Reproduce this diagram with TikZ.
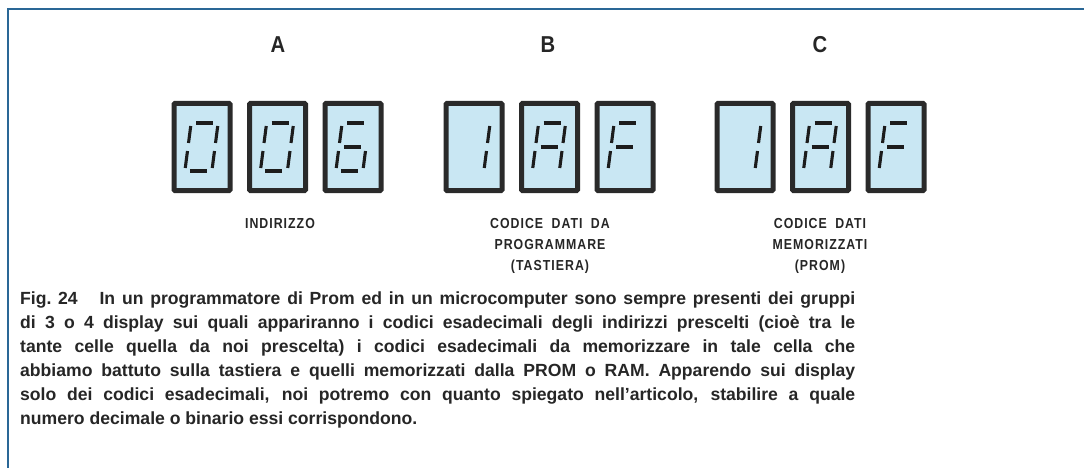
\documentclass[tikz,border=0pt]{standalone}
\usepackage{fontspec}
\setmainfont{Liberation Sans}
\newfontfamily\headfont[FakeStretch=0.88]{Liberation Sans}
\newfontfamily\lblfont[FakeStretch=0.85,LetterSpace=7]{Liberation Sans}
\newfontfamily\capfont{Liberation Sans}
\definecolor{framecol}{HTML}{2A6796}
\definecolor{dispfill}{HTML}{C9E7F3}
\definecolor{dispedge}{HTML}{2A2A2A}
\definecolor{segcol}{HTML}{1C1C1C}
\definecolor{textcol}{HTML}{262626}
\tikzset{
  disp/.style={draw=dispedge, line width=5pt, fill=dispfill, minimum width=56pt,
    minimum height=87pt, inner sep=0pt, rounded corners=1pt},
  segline/.style={draw=segcol, line width=3.1pt},
  headlbl/.style={text=textcol, font=\headfont\bfseries\fontsize{23}{23}\selectfont, inner sep=0pt},
  sublbl/.style={text=textcol, font=\lblfont\bfseries\fontsize{14.5}{21}\selectfont, align=center, inner sep=0pt},
  captxt/.style={text=textcol, font=\capfont\bfseries\fontsize{17.6}{24}\selectfont, align=left, inner sep=0pt},
}
\newcommand{\sga}{\draw[segline] (-9,-24) -- (8,-24);}
\newcommand{\sgb}{\draw[segline] (13,-21) -- (13,-4);}
\newcommand{\sgc}{\draw[segline] (13,4) -- (13,21);}
\newcommand{\sgd}{\draw[segline] (-9,24) -- (8,24);}
\newcommand{\sge}{\draw[segline] (-14,4) -- (-14,21);}
\newcommand{\sgf}{\draw[segline] (-14,-21) -- (-14,-4);}
\newcommand{\sgg}{\draw[segline] (-9,0) -- (8,0);}
\newcommand{\showdigit}[2]{%
  \begin{scope}[shift={(#1.center)}, xslant=0.13]
    \foreach \s in {#2}{\csname sg\s\endcsname}
  \end{scope}}
\begin{document}
\begin{tikzpicture}[x=1pt, y=-1pt]
\useasboundingbox (0,0) rectangle (1084,468);
\fill[white] (0,0) rectangle (1084,468);
% frame
\coordinate (fbl) at (8,468);
\coordinate (ftl) at (8,9);
\coordinate (ftr) at (1084,9);
\draw[framecol, line width=2pt] (fbl) -- (ftl) -- (ftr);
% headings
\node[headlbl] (hA) at (278,45) {A};
\node[headlbl] (hB) at (548,45) {B};
\node[headlbl] (hC) at (820,45) {C};
% displays
\node[disp] (a1) at (202,147) {};
\node[disp] (a2) at (277.5,147) {};
\node[disp] (a3) at (353,147) {};
\node[disp] (b1) at (474,147) {};
\node[disp] (b2) at (549.5,147) {};
\node[disp] (b3) at (625,147) {};
\node[disp] (c1) at (745,147) {};
\node[disp] (c2) at (820.5,147) {};
\node[disp] (c3) at (896,147) {};
\showdigit{a1}{a,b,c,d,e,f}
\showdigit{a2}{a,b,c,d,e,f}
\showdigit{a3}{a,c,d,e,f,g}
\showdigit{b1}{b,c}
\showdigit{b2}{a,b,c,e,f,g}
\showdigit{b3}{a,e,f,g}
\showdigit{c1}{b,c}
\showdigit{c2}{a,b,c,e,f,g}
\showdigit{c3}{a,e,f,g}
% labels
\node[sublbl, anchor=north] (lA) at (280,218) {INDIRIZZO};
\node[sublbl, anchor=north] (lB) at (550,218) {CODICE\hspace{4pt} DATI\hspace{4pt} DA\\PROGRAMMARE\\(TASTIERA)};
\node[sublbl, anchor=north] (lC) at (820,218) {CODICE\hspace{4pt} DATI\\MEMORIZZATI\\(PROM)};
% caption
\node[captxt, anchor=north west] (cap) at (20,292) {%
\makebox[835pt][s]{\mbox{Fig. 24}\hspace{22pt}In un programmatore di Prom ed in un microcomputer sono sempre presenti dei gruppi}\\
\makebox[835pt][s]{di 3 o 4 display sui quali appariranno i codici esadecimali degli indirizzi prescelti (cioè tra le}\\
\makebox[835pt][s]{tante celle quella da noi prescelta) i codici esadecimali da memorizzare in tale cella che}\\
\makebox[835pt][s]{abbiamo battuto sulla tastiera e quelli memorizzati dalla PROM o RAM. Apparendo sui display}\\
\makebox[835pt][s]{solo dei codici esadecimali, noi potremo con quanto spiegato nell’articolo, stabilire a quale}\\
numero decimale o binario essi corrispondono.};
\end{tikzpicture}
\end{document}
